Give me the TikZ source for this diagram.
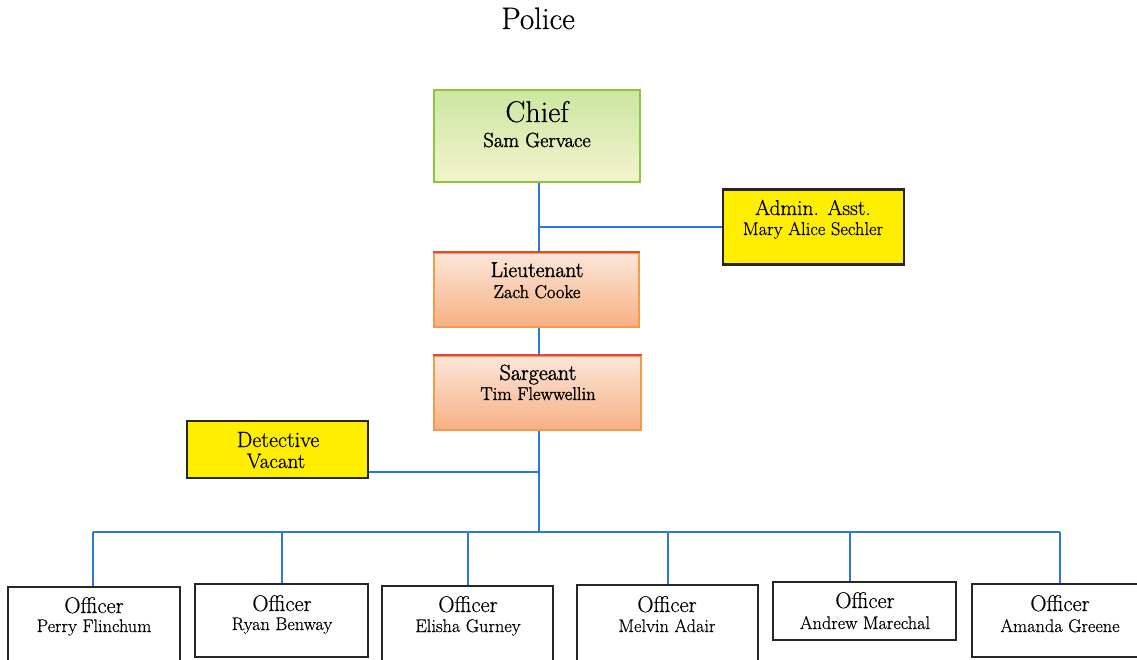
\documentclass[tikz,border=0pt]{standalone}
\usepackage{fontspec}
\setmainfont{Latin Modern Roman}[FakeBold=0.5]
\newfontfamily\heavy{Latin Modern Roman}[FakeBold=1.6]
\definecolor{linkblue}{HTML}{2A78D6}
\definecolor{chiefborder}{HTML}{8CC63F}
\definecolor{chieftop}{HTML}{CDE6A2}
\definecolor{chiefbot}{HTML}{F3F3CC}
\definecolor{ltop}{HTML}{FCE6D9}
\definecolor{lbot}{HTML}{F6B083}
\definecolor{lborder}{HTML}{F39A4B}
\definecolor{lred}{HTML}{E8453C}
\definecolor{asstyellow}{HTML}{FFEE00}
\newcommand{\fs}[1]{\fontsize{#1}{#1}\selectfont}
\begin{document}
\begin{tikzpicture}[x=1pt,y=-1pt,
  link/.style={draw=linkblue, line width=1.5pt},
  greenbox/.style={rectangle, draw=chiefborder, line width=1.6pt, top color=chieftop, bottom color=chiefbot, inner sep=0pt},
  orangebox/.style={rectangle, draw=lborder, line width=1.6pt, top color=ltop, bottom color=lbot, inner sep=0pt},
  yellowbox/.style={rectangle, draw=black!85, line width=2.4pt, fill=asstyellow, inner sep=0pt},
  whitebox/.style={rectangle, draw=black!85, line width=2.2pt, fill=white, inner sep=0pt},
  txt/.style={inner sep=0pt, text=black, anchor=base}
]
\useasboundingbox (0,0) rectangle (1137,660);
\clip (0,0) rectangle (1137,660);

% title
\node[txt] (title) at (538,29) {\fs{31}Police};

% boxes
\node[greenbox, minimum width=206pt, minimum height=92pt] (chief) at (537,136) {};
\node[yellowbox, minimum width=181pt, minimum height=75pt] (admin) at (813.5,227) {};
\node[orangebox, minimum width=205pt, minimum height=74pt] (lieut) at (536.5,290) {};
\node[orangebox, minimum width=207pt, minimum height=74pt] (sarg) at (537.5,393) {};
\node[yellowbox, minimum width=181pt, minimum height=57pt] (det) at (277.5,449.5) {};
\draw[lred, line width=1.6pt] (lieut.north west) -- (lieut.north east);
\draw[lred, line width=1.6pt] (sarg.north west) -- (sarg.north east);

\node[whitebox, minimum width=172pt, minimum height=90pt] (o1) at (94,632) {};
\node[whitebox, minimum width=173pt, minimum height=73pt] (o2) at (281.5,620.5) {};
\node[whitebox, minimum width=171pt, minimum height=90pt] (o3) at (467.5,631) {};
\node[whitebox, minimum width=181pt, minimum height=90pt] (o4) at (667.5,630) {};
\node[whitebox, minimum width=183pt, minimum height=58pt] (o5) at (864.5,611) {};
\node[whitebox, minimum width=176pt, minimum height=73pt] (o6) at (1060,620.5) {};

% texts
\node[txt] (chiefT) at (537,122) {\fs{30}Chief};
\node[txt] (chiefN) at (537,147) {\heavy\fs{20.5}Sam Gervace};
\node[txt] (adminT) at (813,215) {\fs{21.5}Admin. Asst.};
\node[txt] (adminN) at (813,235) {\fs{18.5}Mary Alice Sechler};
\node[txt] (lieutT) at (537,277) {\heavy\fs{21.5}Lieutenant};
\node[txt] (lieutN) at (537,298) {\heavy\fs{18.5}Zach Cooke};
\node[txt] (sargT) at (538,380) {\heavy\fs{22}Sargeant};
\node[txt] (sargN) at (538,400) {\heavy\fs{18.5}Tim Flewwellin};
\node[txt] (detT) at (278,447) {\fs{22}Detective};
\node[txt] (detN) at (276,468) {\fs{21}Vacant};

\node[txt] (o1T) at (94,613) {\fs{22.5}Officer};
\node[txt] (o1N) at (94,632) {\fs{18.3}Perry Flinchum};
\node[txt] (o2T) at (282,611) {\fs{22.5}Officer};
\node[txt] (o2N) at (282,630) {\fs{18.3}Ryan Benway};
\node[txt] (o3T) at (468,612) {\fs{22.5}Officer};
\node[txt] (o3N) at (468,632) {\fs{18.3}Elisha Gurney};
\node[txt] (o4T) at (667,612) {\fs{22.5}Officer};
\node[txt] (o4N) at (667,632) {\fs{18.3}Melvin Adair};
\node[txt] (o5T) at (865,608) {\fs{22.5}Officer};
\node[txt] (o5N) at (865,629) {\fs{18.3}Andrew Marechal};
\node[txt] (o6T) at (1060,611) {\fs{22.5}Officer};
\node[txt] (o6N) at (1060,632) {\fs{18.3}Amanda Greene};

% connectors
\coordinate (bus) at (539,532);
\coordinate (detj) at (det.east |- 0,472);
\coordinate (d1) at (93,532);
\coordinate (d2) at (282,532);
\coordinate (d3) at (468,532);
\coordinate (d4) at (668,532);
\coordinate (d5) at (850,532);
\coordinate (d6) at (1060,532);
\draw[link] (chief.south -| bus) -- (lieut.north -| bus);
\draw[link] (lieut.south -| bus) -- (sarg.north -| bus);
\draw[link] (sarg.south -| bus) -- (bus);
\draw[link] (admin.west) -- (admin.west -| bus);
\draw[link] (detj) -- (detj -| bus);
\draw[link] (d1) -- (d6);
\draw[link] (d1) -- (d1 |- o1.north);
\draw[link] (d2) -- (d2 |- o2.north);
\draw[link] (d3) -- (d3 |- o3.north);
\draw[link] (d4) -- (d4 |- o4.north);
\draw[link] (d5) -- (d5 |- o5.north);
\draw[link] (d6) -- (d6 |- o6.north);
\end{tikzpicture}
\end{document}
